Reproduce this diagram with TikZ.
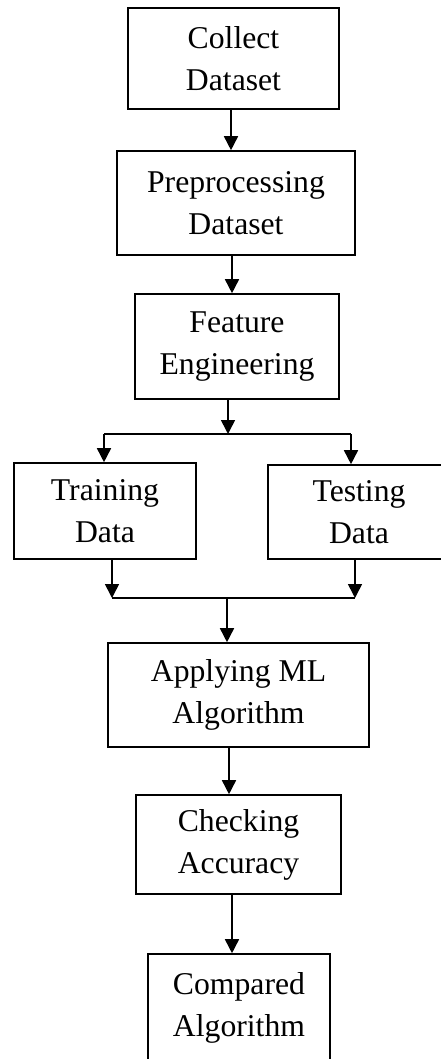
\documentclass[tikz,border=0pt]{standalone}
\usepackage{fontspec}
\setmainfont{Liberation Serif}
\usetikzlibrary{arrows.meta}
\begin{document}
\begin{tikzpicture}[x=1pt,y=-1pt,
  box/.style={draw,line width=1.6pt,rectangle,inner sep=0pt,align=center,
    font=\fontsize{31.7}{42}\selectfont},
  conn/.style={line width=1.6pt},
  arr/.style={conn,-{Triangle[length=14pt,width=14pt]}}]
\useasboundingbox (0,0) rectangle (441,1059);
\node[box,minimum width=211pt,minimum height=101pt] (collect) at (233.5,58.5) {Collect\\Dataset};
\node[box,minimum width=238pt,minimum height=104pt] (pre) at (236,203) {Preprocessing\\Dataset};
\node[box,minimum width=204pt,minimum height=105pt] (feat) at (237,346.5) {Feature\\Engineering};
\node[box,minimum width=182pt,minimum height=96pt] (train) at (105,511) {Training\\Data};
\node[box,minimum width=182pt,minimum height=94pt] (test) at (359,512) {Testing\\Data};
\node[box,minimum width=261pt,minimum height=104pt] (apply) at (238.5,695) {Applying ML\\Algorithm};
\node[box,minimum width=205pt,minimum height=99pt] (check) at (238.5,844.5) {Checking\\Accuracy};
\node[box,minimum width=182pt,minimum height=108pt] (comp) at (239,1008) {Compared\\Algorithm};
\coordinate (c1) at (231,0);
\coordinate (c2) at (232,0);
\coordinate (split) at (228,434);
\coordinate (sl) at (104,434);
\coordinate (sr) at (351,434);
\coordinate (ml) at (112,598);
\coordinate (mr) at (355,598);
\coordinate (mm) at (227,598);
\coordinate (c4) at (229,0);
\coordinate (c5) at (232,0);
\draw[arr] (c1 |- collect.south) -- (c1 |- pre.north);
\draw[arr] (c2 |- pre.south) -- (c2 |- feat.north);
\draw[arr] (split |- feat.south) -- (split);
\draw[conn] (sl) -- (sr);
\draw[arr] (sl) -- (sl |- train.north);
\draw[arr] (sr) -- (sr |- test.north);
\draw[arr] (ml |- train.south) -- (ml);
\draw[arr] (mr |- test.south) -- (mr);
\draw[conn] (ml) -- (mr);
\draw[arr] (mm) -- (mm |- apply.north);
\draw[arr] (c4 |- apply.south) -- (c4 |- check.north);
\draw[arr] (c5 |- check.south) -- (c5 |- comp.north);
\end{tikzpicture}
\end{document}
